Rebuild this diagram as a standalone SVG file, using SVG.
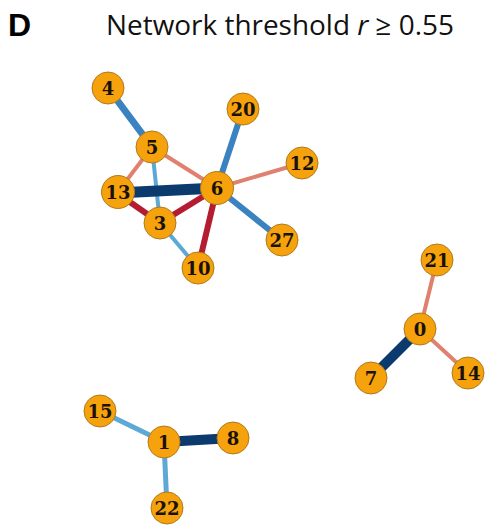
<svg xmlns="http://www.w3.org/2000/svg" width="485" height="532" viewBox="0 0 485 532">
<style>
.node circle{fill:#F5A20C;stroke:#B07A20;stroke-width:1}
.node text{font-family:"DejaVu Serif",serif;font-weight:bold;font-size:18px;fill:#1a1208;text-anchor:middle;dominant-baseline:central}
.e{stroke-linecap:butt;fill:none}
.navy{stroke:#0B3A6E}
.blue{stroke:#3A82C0}
.lblue{stroke:#5DA9D6}
.salmon{stroke:#E0816F}
.red{stroke:#B41C30}
</style>
<rect width="485" height="532" fill="#ffffff"/>
<text x="8" y="36" font-family="Liberation Sans, Arial, sans-serif" font-weight="bold" font-size="32" fill="#000">D</text>
<text x="106" y="35" font-family="Open Sans, Liberation Sans, sans-serif" font-size="28" fill="#111" textLength="348" lengthAdjust="spacingAndGlyphs">Network threshold <tspan font-style="italic">r</tspan> ≥ 0.55</text>
<g id="connectors">
<line class="e blue" x1="108" y1="88" x2="152" y2="147" stroke-width="7"/>
<line class="e salmon" x1="152" y1="147" x2="117" y2="193" stroke-width="4"/>
<line class="e salmon" x1="152" y1="147" x2="217" y2="188" stroke-width="4"/>
<line class="e lblue" x1="152" y1="147" x2="160" y2="223" stroke-width="4"/>
<line class="e navy" x1="117" y1="193" x2="217" y2="188" stroke-width="11"/>
<line class="e red" x1="117" y1="193" x2="160" y2="223" stroke-width="6"/>
<line class="e red" x1="160" y1="223" x2="217" y2="188" stroke-width="6"/>
<line class="e red" x1="217" y1="188" x2="198" y2="268" stroke-width="6"/>
<line class="e lblue" x1="160" y1="223" x2="198" y2="268" stroke-width="4"/>
<line class="e blue" x1="217" y1="188" x2="243" y2="109" stroke-width="6"/>
<line class="e salmon" x1="217" y1="188" x2="302" y2="163" stroke-width="4"/>
<line class="e blue" x1="217" y1="188" x2="282" y2="240" stroke-width="6"/>
<line class="e salmon" x1="437" y1="260" x2="420" y2="329" stroke-width="4"/>
<line class="e salmon" x1="420" y1="329" x2="468" y2="373" stroke-width="4"/>
<line class="e navy" x1="420" y1="329" x2="371" y2="378" stroke-width="10"/>
<line class="e lblue" x1="100" y1="411" x2="164" y2="442" stroke-width="5"/>
<line class="e lblue" x1="164" y1="442" x2="167" y2="508" stroke-width="5"/>
<line class="e navy" x1="164" y1="442" x2="233" y2="438" stroke-width="10"/>
</g>
<g id="n4" class="node"><circle cx="108" cy="88" r="16"/><text x="108" y="88">4</text></g>
<g id="n5" class="node"><circle cx="152" cy="147" r="16"/><text x="152" y="147">5</text></g>
<g id="n20" class="node"><circle cx="243" cy="109" r="16"/><text x="243" y="109">20</text></g>
<g id="n12" class="node"><circle cx="302" cy="163" r="16"/><text x="302" y="163">12</text></g>
<g id="n13" class="node"><circle cx="118" cy="192" r="16.5"/><text x="118" y="192">13</text></g>
<g id="n6" class="node"><circle cx="217" cy="188" r="16.5"/><text x="217" y="188">6</text></g>
<g id="n3" class="node"><circle cx="160" cy="223" r="16"/><text x="160" y="223">3</text></g>
<g id="n27" class="node"><circle cx="282" cy="240" r="16"/><text x="282" y="240">27</text></g>
<g id="n10" class="node"><circle cx="198" cy="268" r="16"/><text x="198" y="268">10</text></g>
<g id="n21" class="node"><circle cx="437" cy="260" r="16"/><text x="437" y="260">21</text></g>
<g id="n0" class="node"><circle cx="420" cy="329" r="16"/><text x="420" y="329">0</text></g>
<g id="n7" class="node"><circle cx="371" cy="378" r="16"/><text x="371" y="378">7</text></g>
<g id="n14" class="node"><circle cx="468" cy="373" r="16"/><text x="468" y="373">14</text></g>
<g id="n15" class="node"><circle cx="100" cy="411" r="16"/><text x="100" y="411">15</text></g>
<g id="n1" class="node"><circle cx="164" cy="442" r="16"/><text x="164" y="442">1</text></g>
<g id="n8" class="node"><circle cx="233" cy="438" r="16"/><text x="233" y="438">8</text></g>
<g id="n22" class="node"><circle cx="167" cy="508" r="16"/><text x="167" y="508">22</text></g>
</svg>
